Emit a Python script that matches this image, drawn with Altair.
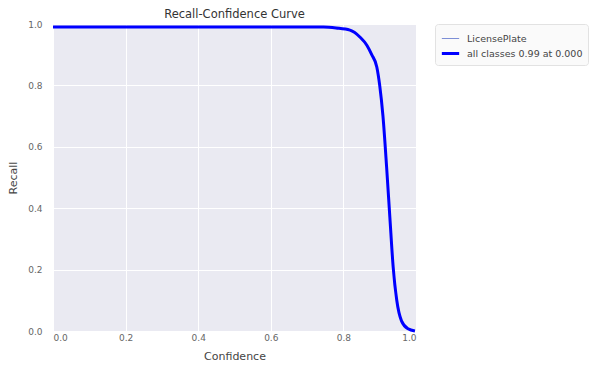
import altair as alt
import pandas as pd

confidence = [0.0, 0.10, 0.20, 0.30, 0.40, 0.50, 0.60, 0.70, 0.745, 0.78, 0.818, 0.846, 0.865, 0.878, 0.892, 0.900, 0.909, 0.919, 0.928, 0.937, 0.947, 0.960, 0.978, 0.997]
recall = [0.99, 0.99, 0.99, 0.99, 0.99, 0.99, 0.99, 0.99, 0.99, 0.987, 0.98, 0.957, 0.93, 0.90, 0.86, 0.80, 0.70, 0.535, 0.37, 0.21, 0.10, 0.033, 0.007, 0.0]
series_names = ["LicensePlate", "all classes 0.99 at 0.000"]
series_colors = ["#7d8fd6", "#0000ff"]
series_widths = [1, 3]
title_text = "Recall-Confidence Curve"
x_label = "Confidence"
y_label = "Recall"
tick_values = [0.0, 0.2, 0.4, 0.6, 0.8, 1.0]

rows = []
for s in series_names:
    for c, r in zip(confidence, recall):
        rows.append({"confidence": c, "recall": r, "series": s})
df = pd.DataFrame(rows)

FONT = "DejaVu Sans"

legend_cfg = dict(title=None, orient="none", legendX=382, legendY=0,
                  symbolType="stroke", symbolSize=300,
                  labelFont=FONT, labelFontSize=9.5, labelColor="#444444", labelOffset=6,
                  fillColor="#fafafa", strokeColor="#e2e2e2", padding=5,
                  cornerRadius=3, rowPadding=0, labelLimit=250)

chart = alt.Chart(df).mark_line(interpolate="monotone").encode(
    x=alt.X("confidence:Q", title=x_label,
            scale=alt.Scale(domain=[0, 1], nice=False, zero=False),
            axis=alt.Axis(values=tick_values, format=".1f", labelPadding=2)),
    y=alt.Y("recall:Q", title=y_label,
            scale=alt.Scale(domain=[0, 1], nice=False),
            axis=alt.Axis(values=tick_values, format=".1f", labelPadding=11)),
    color=alt.Color("series:N", scale=alt.Scale(domain=series_names, range=series_colors),
                    legend=alt.Legend(**legend_cfg)),
    strokeWidth=alt.StrokeWidth("series:N", scale=alt.Scale(domain=series_names, range=series_widths),
                                legend=alt.Legend(**legend_cfg)),
    order=alt.Order("series:N", sort="descending"),
).properties(
    width=363, height=307,
    title=alt.TitleParams(title_text, font=FONT, fontSize=11.5, fontWeight="normal", color="#333333", offset=0),
    autosize=alt.AutoSizeParams(type="none"),
    padding={"left": 53, "top": 24, "right": 186, "bottom": 36},
).configure_view(
    fill="#EAEAF2", stroke=None
).configure_axis(
    grid=True, gridColor="#ffffff", gridWidth=1, domain=False, ticks=False,
    labelFont=FONT, labelFontSize=9, labelColor="#666666",
    titleFont=FONT, titleFontSize=11, titleFontWeight="normal", titleColor="#444444",
).configure_axisY(titlePadding=9).configure_axisX(titlePadding=8)

chart.save("out.html", embed_options={"renderer": "svg", "actions": False})
